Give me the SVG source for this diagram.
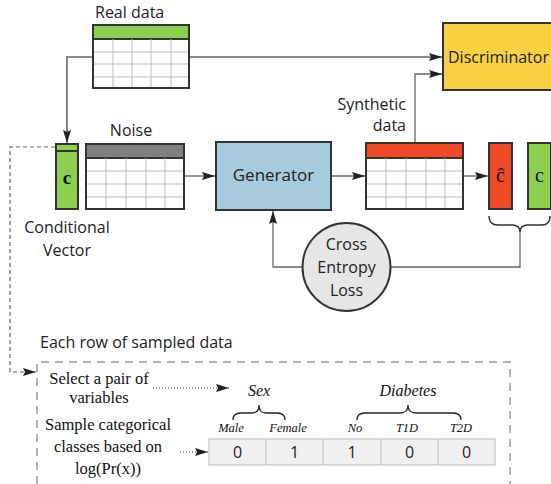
<svg xmlns="http://www.w3.org/2000/svg" width="551" height="484" viewBox="0 0 551 484">
<defs>
<marker id="arr" markerUnits="userSpaceOnUse" markerWidth="14" markerHeight="8" refX="13" refY="4" orient="auto">
<path d="M0,0 L13,4 L0,8 L2,4 z" fill="#222"/>
</marker>
<style>
.sans{font-family:"Open Sans","Noto Sans","DejaVu Sans",sans-serif;fill:#222}
.serif{font-family:"Liberation Serif","Times New Roman",serif;fill:#111}
.box{stroke:#333;stroke-width:2}
.grid{stroke:#bbb;stroke-width:1}
.tb{fill:#fff;stroke:#333;stroke-width:2}
.conn{fill:none;stroke:#666;stroke-width:1.3}
.thick{fill:none;stroke:#888;stroke-width:2}
.dot{fill:none;stroke:#333;stroke-width:1.2;stroke-dasharray:1 2}
</style>
</defs>
<rect width="551" height="484" fill="#fff"/>

<g id="connectors">
<path class="thick" d="M93 57 H67 V143" marker-end="url(#arr)"/>
<path class="thick" d="M189 57 H442" marker-end="url(#arr)"/>
<path class="conn" d="M415 143 V74 H442" marker-end="url(#arr)"/>
<path class="conn" d="M184 176 H215" marker-end="url(#arr)"/>
<path class="conn" d="M331 176 H365" marker-end="url(#arr)"/>
<path class="conn" d="M463 176 H488" marker-end="url(#arr)"/>
<path class="conn" d="M520 232 V267 H391"/>
<path class="conn" d="M302 267 H273 V211" marker-end="url(#arr)"/>
<path fill="none" stroke="#666" stroke-width="1.2" stroke-dasharray="4 3" d="M55 147 H10 V372 H36" marker-end="url(#arr)"/>
<path class="dot" d="M153 388 H229" marker-end="url(#arr)"/>
<path class="dot" d="M180 452 H208" marker-end="url(#arr)"/>
</g>

<g id="real-data">
<text class="sans" x="95" y="18" font-size="16">Real data</text>
<rect class="tb" x="93" y="25" width="96" height="63"/>
<rect x="93" y="25" width="96" height="14" fill="#8ACF4D" stroke="#333" stroke-width="2"/>
<path class="grid" d="M113 39V88M132 39V88M151 39V88M171 39V88M94 52H188M94 64H188M94 77H188"/>
<rect x="93" y="25" width="96" height="63" fill="none" stroke="#333" stroke-width="2"/>
</g>

<g id="discriminator">
<rect class="box" x="443" y="23" width="112" height="67" fill="#F8D142"/>
<text class="sans" x="448" y="63" font-size="16.5" textLength="101" lengthAdjust="spacingAndGlyphs">Discriminator</text>
</g>

<g id="synthetic-label">
<text class="sans" x="406" y="110" font-size="16" text-anchor="end">Synthetic</text>
<text class="sans" x="406" y="131" font-size="16" text-anchor="end">data</text>
</g>

<g id="conditional-vector">
<rect x="56" y="144" width="22" height="65" fill="#8DD04F" stroke="#333" stroke-width="2"/>
<path d="M56 151 H78" stroke="#333" stroke-width="2"/>
<text class="serif" x="67" y="184" font-size="19" font-weight="bold" text-anchor="middle">c</text>
<text class="sans" x="67" y="233" font-size="16" text-anchor="middle">Conditional</text>
<text class="sans" x="67" y="256" font-size="16" text-anchor="middle">Vector</text>
</g>

<g id="noise">
<text class="sans" x="131" y="136" font-size="16" text-anchor="middle">Noise</text>
<rect class="tb" x="86" y="144" width="98" height="65"/>
<rect x="86" y="144" width="98" height="14" fill="#808080" stroke="#333" stroke-width="2"/>
<path class="grid" d="M106 158V209M126 158V209M146 158V209M165 158V209M87 171H183M87 184H183M87 197H183"/>
<rect x="86" y="144" width="98" height="65" fill="none" stroke="#333" stroke-width="2"/>
</g>

<g id="generator">
<rect class="box" x="216" y="142" width="115" height="68" fill="#A7CADF"/>
<text class="sans" x="273.5" y="181" font-size="17" text-anchor="middle">Generator</text>
</g>

<g id="synthetic-data">
<rect class="tb" x="366" y="143" width="97" height="66"/>
<rect x="366" y="143" width="97" height="15" fill="#EF4A25" stroke="#333" stroke-width="2"/>
<path class="grid" d="M386 158V209M406 158V209M426 158V209M445 158V209M367 171H462M367 184H462M367 197H462"/>
<rect x="366" y="143" width="97" height="66" fill="none" stroke="#333" stroke-width="2"/>
</g>

<g id="c-hat">
<rect class="box" x="489" y="143" width="23" height="66" fill="#EF4A25"/>
<text class="serif" x="500.5" y="182" font-size="20" text-anchor="middle">ĉ</text>
</g>

<g id="c-real">
<rect class="box" x="528" y="143" width="23" height="66" fill="#8DD04F"/>
<text class="serif" x="539.5" y="182" font-size="20" text-anchor="middle">c</text>
</g>

<g id="brace-c">
<path d="M489 216 Q489 225 498 225 L512 225 Q520 225 520 232 Q520 225 528 225 L542 225 Q550 225 550 216" fill="none" stroke="#333" stroke-width="1.5"/>
</g>

<g id="loss">
<circle cx="346.5" cy="267" r="44" fill="#E6E6E6" stroke="#333" stroke-width="2"/>
<text class="sans" x="346.5" y="250" font-size="16" text-anchor="middle">Cross</text>
<text class="sans" x="346.5" y="273" font-size="16" text-anchor="middle">Entropy</text>
<text class="sans" x="346.5" y="296" font-size="16" text-anchor="middle">Loss</text>
</g>

<g id="sampled-data">
<text class="sans" x="40" y="348" font-size="16">Each row of sampled data</text>
<path d="M37 484 V362 H510 V484" fill="none" stroke="#999" stroke-width="1.5" stroke-dasharray="8 6"/>
<text class="serif" x="99" y="384" font-size="16.5" text-anchor="middle">Select a pair of</text>
<text class="serif" x="99" y="403" font-size="16.5" text-anchor="middle">variables</text>
<text class="serif" x="108" y="430" font-size="16.5" text-anchor="middle">Sample categorical</text>
<text class="serif" x="108" y="452" font-size="16.5" text-anchor="middle">classes based on</text>
<text class="serif" x="108" y="474" font-size="16.5" text-anchor="middle">log(Pr(x))</text>
<text class="serif" x="259" y="396" font-size="16" font-style="italic" text-anchor="middle">Sex</text>
<text class="serif" x="408" y="396" font-size="16" font-style="italic" text-anchor="middle">Diabetes</text>
<path d="M233 420 Q233 413 241 413 L252 413 Q259 413 259 405 Q259 413 266 413 L277 413 Q285 413 285 420" fill="none" stroke="#222" stroke-width="1.3"/>
<path d="M357 420 Q357 413 365 413 L400 413 Q408 413 408 405 Q408 413 416 413 L453 413 Q461 413 461 420" fill="none" stroke="#222" stroke-width="1.3"/>
<g class="serif" font-size="12.5" font-style="italic" text-anchor="middle">
<text x="231" y="432">Male</text>
<text x="288" y="432">Female</text>
<text x="355" y="432">No</text>
<text x="407" y="432">T1D</text>
<text x="461" y="432">T2D</text>
</g>
<rect x="209" y="439" width="286" height="26" fill="#F0F0F0" stroke="#bbb" stroke-width="1"/>
<path d="M266 439V465M323 439V465M381 439V465M438 439V465" stroke="#bbb" stroke-width="1"/>
<g class="sans" font-size="16" text-anchor="middle">
<text x="237.5" y="458">0</text>
<text x="294.5" y="458">1</text>
<text x="352" y="458">1</text>
<text x="409.5" y="458">0</text>
<text x="466.5" y="458">0</text>
</g>
</g>
</svg>
